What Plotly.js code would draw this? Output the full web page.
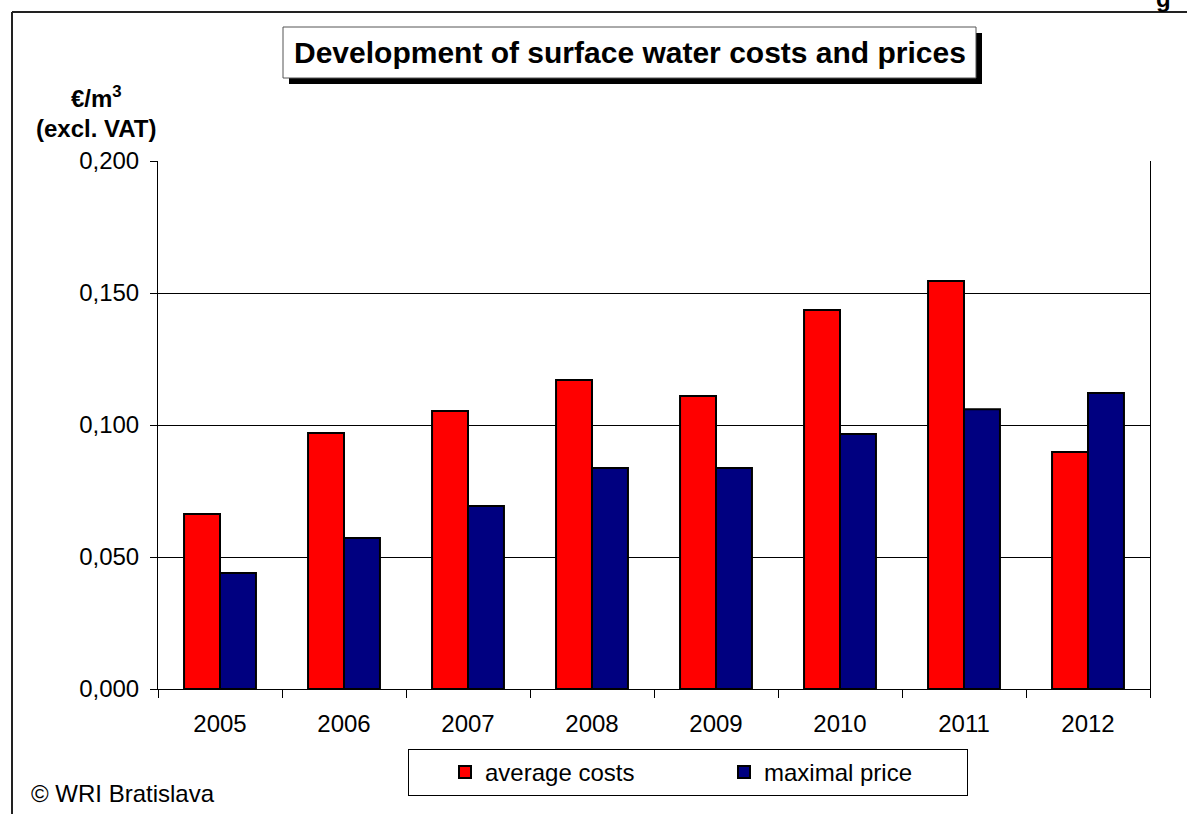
<!DOCTYPE html>
<html>
<head>
<meta charset="utf-8">
<script src="https://cdn.plot.ly/plotly-3.0.1.min.js"></script>
<style>html,body{margin:0;padding:0;background:#fff;overflow:hidden;}#chart{width:1187px;height:814px;}</style>
</head>
<body>
<div id="chart"></div>
<script>
const years = ["2005","2006","2007","2008","2009","2010","2011","2012"];
const averageCosts = [0.0663, 0.0970, 0.1053, 0.1170, 0.1110, 0.1436, 0.1545, 0.0898];
const maximalPrice = [0.0439, 0.0572, 0.0693, 0.0837, 0.0837, 0.0966, 0.1060, 0.1121];
const seriesNames = ["average costs", "maximal price"];
const titleText = "Development of surface water costs and prices";
const yLabel1 = "€/m<sup>3</sup>";
const yLabel2 = "(excl. VAT)";
const creditText = "© WRI Bratislava";
const cutText = "g";

const FONT = "Liberation Sans, Arial, sans-serif";
const L = 158, T = 161, PW = 992, PH = 528;
const px = v => (v - L) / PW;
const py = v => (T + PH - v) / PH;

const traces = [
  {type: "bar", name: seriesNames[0], x: years, y: averageCosts,
   marker: {color: "#FF0000", line: {color: "#000000", width: 2}}, hoverinfo: "x+y"},
  {type: "bar", name: seriesNames[1], x: years, y: maximalPrice,
   marker: {color: "#000080", line: {color: "#000000", width: 2}}, hoverinfo: "x+y"}
];

const layout = {
  width: 1187, height: 814,
  margin: {l: L, r: 1187 - L - PW, t: T, b: 814 - T - PH, pad: 0},
  paper_bgcolor: "#ffffff", plot_bgcolor: "#ffffff",
  separators: ", ",
  font: {family: FONT, size: 24, color: "#000000"},
  barmode: "group", bargap: 0.42, bargroupgap: 0,
  showlegend: true,
  legend: {orientation: "h", x: px(408), y: py(749), xanchor: "left", yanchor: "top",
    bordercolor: "#000000", borderwidth: 1, bgcolor: "#ffffff",
    font: {family: FONT, size: 24, color: "#000000"}, entrywidth: 198, entrywidthmode: "pixels",
    indentation: 36, traceorder: "normal"},
  xaxis: {type: "category", showline: true, linecolor: "#000000", linewidth: 1,
    ticks: "outside", ticklen: 8, tickcolor: "#000000", tickson: "boundaries",
    showgrid: false, zeroline: false, tickfont: {family: FONT, size: 24}, ticklabelstandoff: 13},
  yaxis: {range: [0, 0.2], dtick: 0.05, tick0: 0, tickformat: ".3f",
    showline: true, linecolor: "#000000", linewidth: 1, mirror: true,
    ticks: "outside", ticklen: 7, tickcolor: "#000000",
    showgrid: true, gridcolor: "#000000", gridwidth: 1, zeroline: false,
    tickfont: {family: FONT, size: 24}, ticklabelstandoff: 6},
  shapes: [
    {type: "line", xref: "paper", yref: "paper", x0: px(12), x1: px(1187), y0: py(12), y1: py(12),
     line: {color: "#222222", width: 2}},
    {type: "line", xref: "paper", yref: "paper", x0: px(12), x1: px(12), y0: py(12), y1: py(814),
     line: {color: "#222222", width: 2}},
    {type: "rect", xref: "paper", yref: "paper", x0: px(289), x1: px(982), y0: py(33), y1: py(84),
     fillcolor: "#000000", line: {width: 0}},
    {type: "rect", xref: "paper", yref: "paper", x0: px(283), x1: px(976), y0: py(27), y1: py(78),
     fillcolor: "#ffffff", line: {color: "#555555", width: 1}}
  ],
  annotations: [
    {xref: "paper", yref: "paper", x: px(629.5), y: py(53), xanchor: "center", yanchor: "middle",
     text: "<b>" + titleText + "</b>", showarrow: false, font: {family: FONT, size: 30, color: "#000000"}},
    {xref: "paper", yref: "paper", x: px(96), y: py(97), xanchor: "center", yanchor: "middle",
     text: "<b>" + yLabel1 + "</b>", showarrow: false, font: {family: FONT, size: 24}},
    {xref: "paper", yref: "paper", x: px(96), y: py(128), xanchor: "center", yanchor: "middle",
     text: "<b>" + yLabel2 + "</b>", showarrow: false, font: {family: FONT, size: 24}},
    {xref: "paper", yref: "paper", x: px(29), y: py(793), xanchor: "left", yanchor: "middle",
     text: creditText, showarrow: false, font: {family: FONT, size: 24}},
    {xref: "paper", yref: "paper", x: px(1163), y: py(-1), xanchor: "center", yanchor: "middle",
     text: "<b>" + cutText + "</b>", showarrow: false, font: {family: FONT, size: 24}}
  ]
};

Plotly.newPlot("chart", traces, layout, {displayModeBar: false, staticPlot: true});
</script>
</body>
</html>
